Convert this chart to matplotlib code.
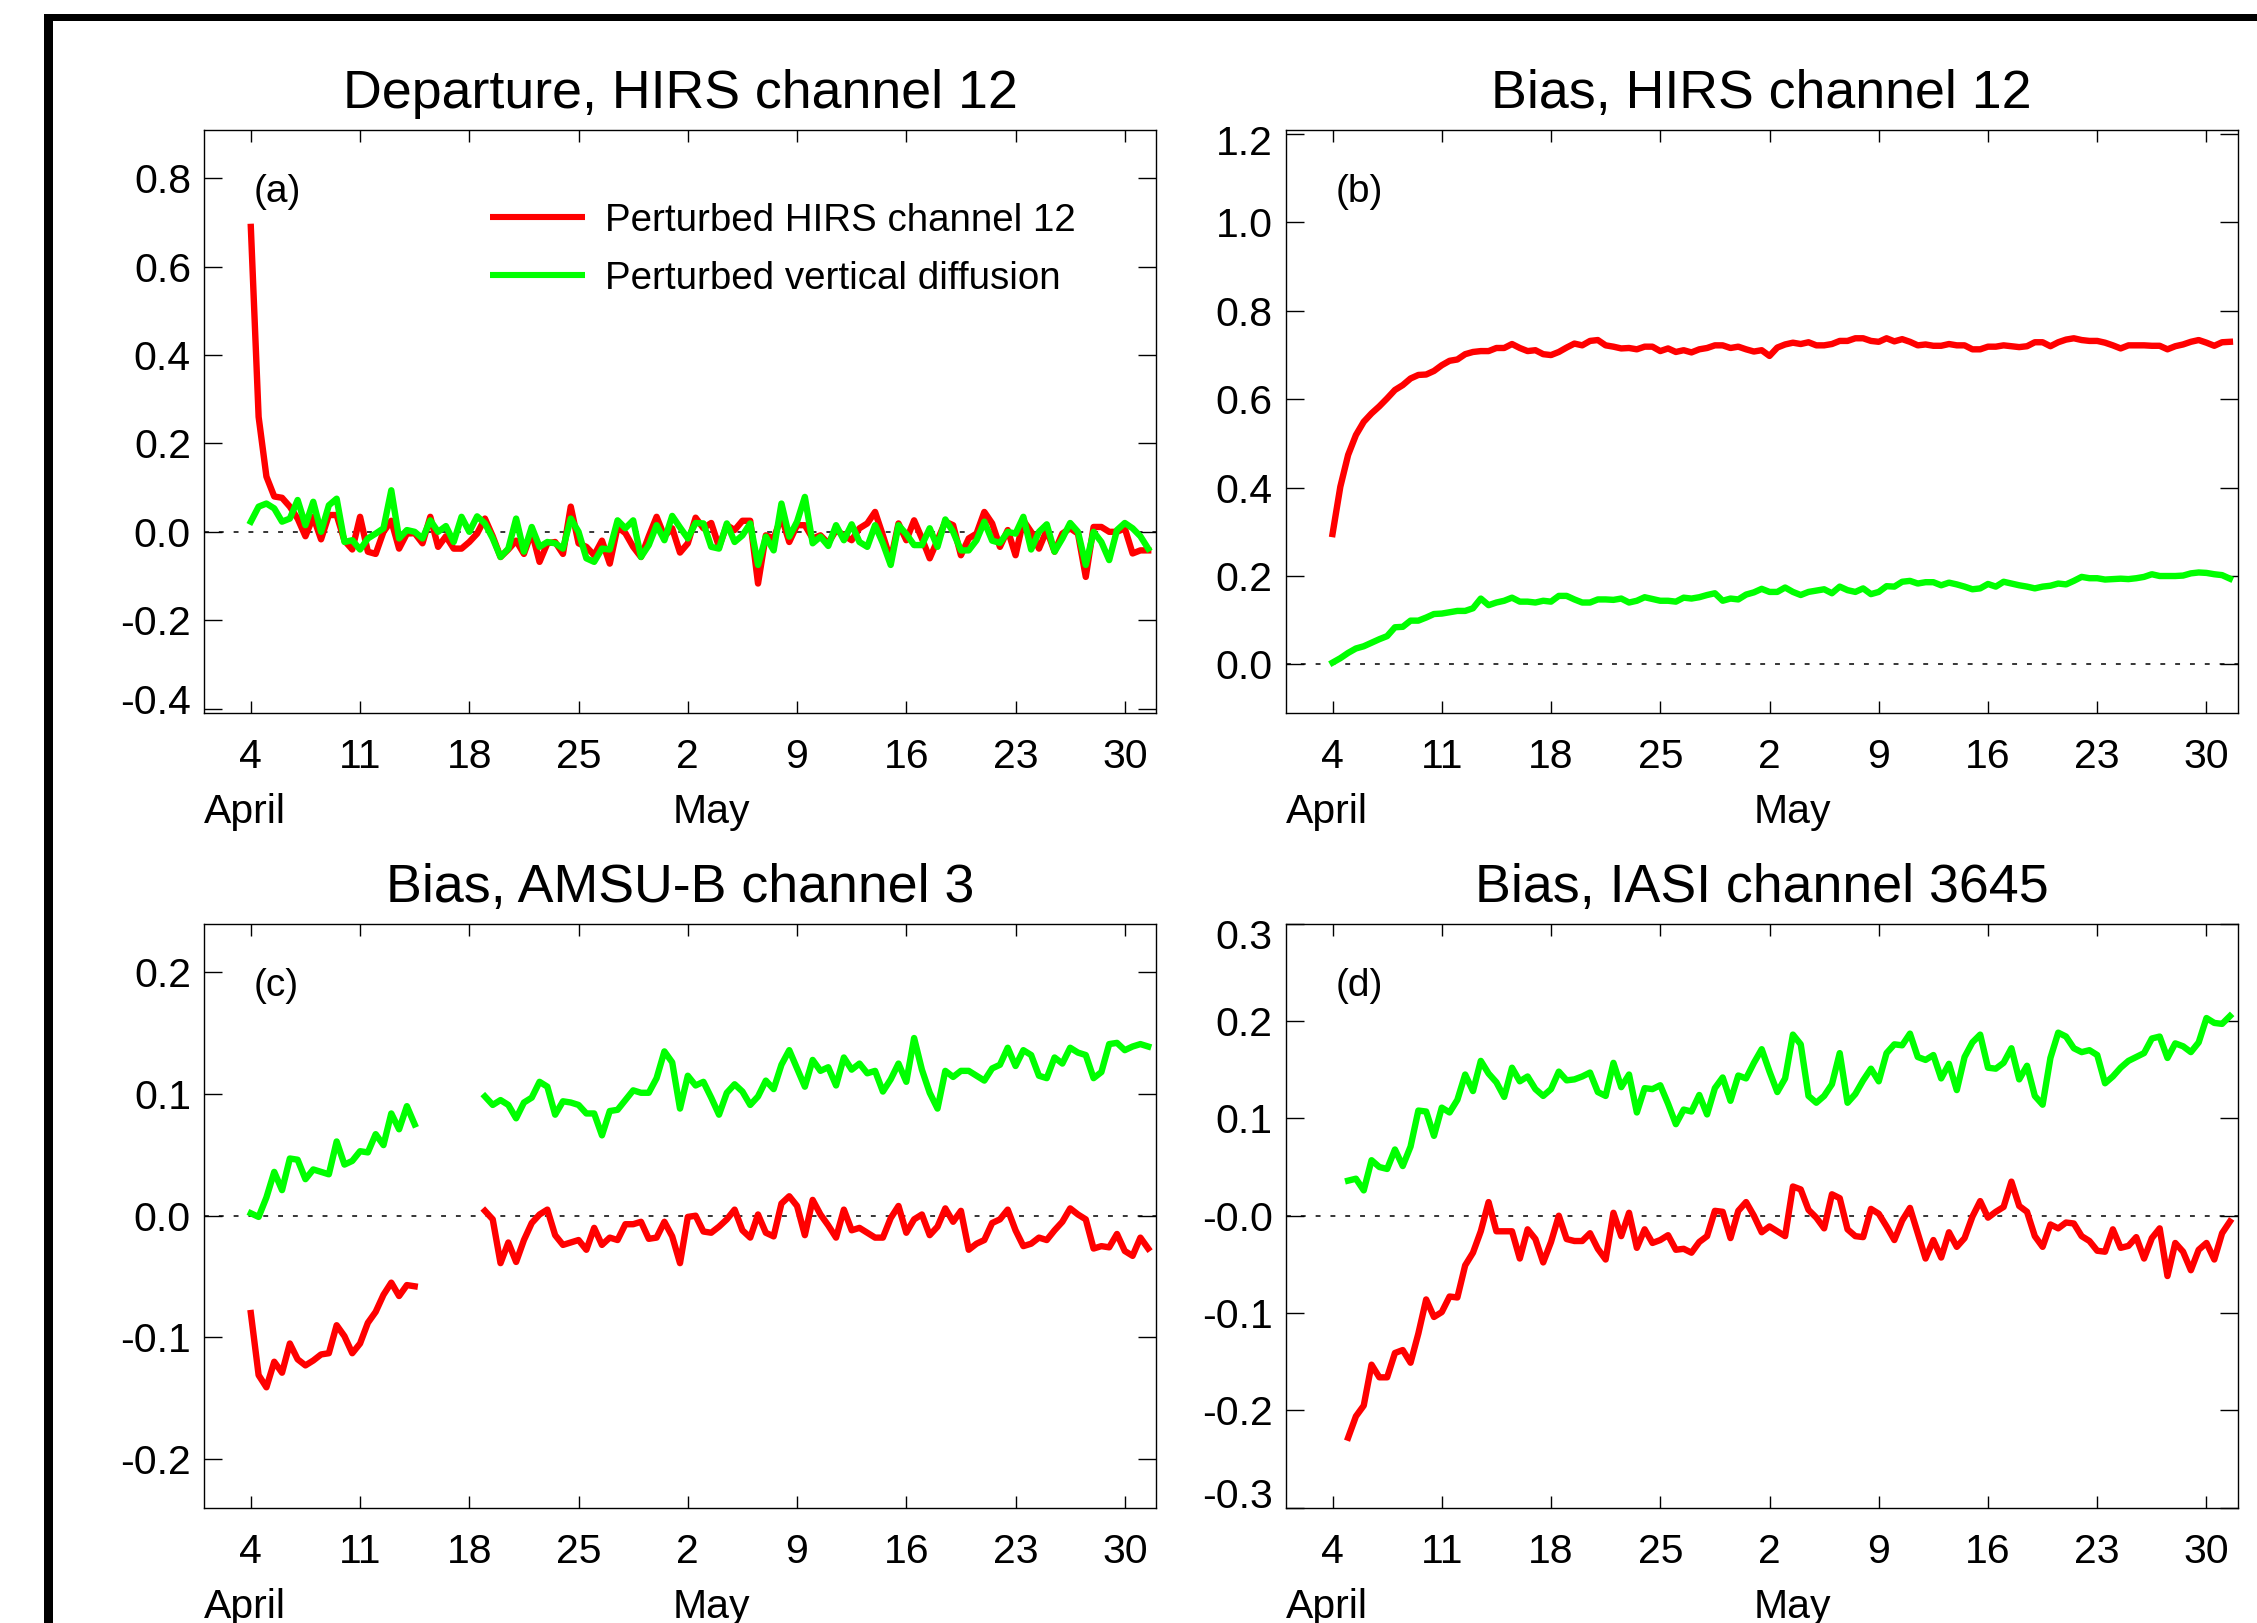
import numpy as np
import matplotlib.pyplot as plt
import matplotlib.transforms as mtransforms
from matplotlib.patches import Rectangle

plt.rcParams["font.family"] = ["Liberation Sans", "DejaVu Sans"]
plt.rcParams["axes.unicode_minus"] = False

nan = np.nan

# 12-hourly analyses from 4 April 00 UTC to 31 May 12 UTC, in days after 1 April
n_times = 116
days = 3.0 + 0.5 * np.arange(n_times)

x_range = (0, 61)
tick_days = [3, 10, 17, 24, 31, 38, 45, 52, 59]
tick_labels = ["4", "11", "18", "25", "2", "9", "16", "23", "30"]
month_names = ["April", "May"]
month_start_days = [0, 30]

legend_labels = ["Perturbed HIRS channel 12", "Perturbed vertical diffusion"]
titles = ["Departure, HIRS channel 12", "Bias, HIRS channel 12",
          "Bias, AMSU-B channel 3", "Bias, IASI channel 3645"]
letters = ["(a)", "(b)", "(c)", "(d)"]

# (a) departure, HIRS channel 12
dep_red = [
    0.69, 0.26, 0.125, 0.08, 0.077, 0.057, 0.03, -0.01, 0.034, -0.017,
    0.038, 0.038, -0.02, -0.04, 0.034, -0.045, -0.05, 0.0, 0.025, -0.038,
    -0.004, -0.003, -0.026, 0.034, -0.034, -0.01, -0.038, -0.038, -0.023, -0.004,
    0.03, -0.01, -0.057, -0.04, -0.02, -0.05, 0.0, -0.068, -0.026, -0.023,
    -0.05, 0.057, -0.026, -0.034, -0.053, -0.02, -0.072, 0.011, -0.003, -0.034,
    -0.057, -0.01, 0.034, -0.01, 0.008, -0.047,
    -0.026, 0.032, 0.008, 0.02, -0.034, 0.015, 0.004, 0.025, 0.025, -0.117,
    -0.008, -0.015, 0.034, -0.023, 0.015, 0.015, -0.015, -0.008, -0.026, 0.004,
    -0.008, -0.019, 0.008, 0.019, 0.045, -0.008, -0.064, 0.019, -0.019, 0.026,
    -0.015, -0.06, -0.019, 0.023, 0.015, -0.053, -0.015, -0.004, 0.045, 0.019,
    -0.034, 0.004, -0.053, 0.026, 0.0, -0.038, 0.004, -0.045, -0.004, 0.008,
    -0.004, -0.102, 0.011, 0.011, 0.0, 0.0, 0.008, -0.049, -0.042, -0.042]
dep_green = [
    0.023, 0.057, 0.064, 0.053, 0.023, 0.03, 0.072, 0.015, 0.068, 0.0,
    0.06, 0.075, -0.023, -0.019, -0.04, -0.015, -0.004, 0.008, 0.094, -0.015,
    0.004, 0.0, -0.015, 0.026, 0.0, 0.013, -0.023, 0.034, 0.0, 0.035,
    0.019, -0.015, -0.057, -0.038, 0.03, -0.045, 0.011, -0.034, -0.023, -0.026,
    -0.038, 0.03, 0.0, -0.06, -0.068, -0.038, -0.04, 0.026, 0.008, 0.026,
    -0.057, -0.03, 0.015, -0.019, 0.036, 0.01,
    -0.015, 0.02, 0.019, -0.034, -0.038, 0.019, -0.023, -0.008, 0.019, -0.075,
    -0.011, -0.042, 0.064, -0.011, 0.023, 0.079, -0.026, -0.011, -0.032, 0.015,
    -0.019, 0.017, -0.023, -0.034, 0.015, -0.026, -0.075, 0.015, -0.005, -0.03,
    -0.03, 0.008, -0.034, 0.028, 0.0, -0.042, -0.042, -0.019, 0.023, -0.02,
    -0.025, 0.0, -0.004, 0.034, -0.04, 0.0, 0.017, -0.045, -0.015, 0.02,
    0.0, -0.075, 0.0, -0.023, -0.064, 0.004, 0.02, 0.008, -0.01, -0.038]

# (b) bias, HIRS channel 12
hirs_red = [
    0.295, 0.402, 0.474, 0.519, 0.549, 0.568, 0.584, 0.602, 0.621, 0.632,
    0.647, 0.655, 0.656, 0.664, 0.677, 0.687, 0.69, 0.702, 0.707, 0.709,
    0.709, 0.716, 0.716, 0.725, 0.716, 0.709, 0.711, 0.702, 0.7, 0.707,
    0.717, 0.726, 0.722, 0.732, 0.734, 0.722, 0.719, 0.715, 0.716, 0.713,
    0.719, 0.719, 0.709, 0.715, 0.707, 0.711, 0.706, 0.713, 0.716, 0.722,
    0.722, 0.716, 0.719, 0.713, 0.708, 0.711,
    0.698, 0.717, 0.724, 0.728, 0.725, 0.729, 0.722, 0.722, 0.725, 0.732,
    0.732, 0.738, 0.738, 0.732, 0.73, 0.738, 0.731, 0.736, 0.73, 0.722,
    0.724, 0.721, 0.721, 0.725, 0.722, 0.722, 0.713, 0.713, 0.719, 0.719,
    0.722, 0.72, 0.718, 0.72, 0.729, 0.729, 0.72, 0.729, 0.735, 0.738,
    0.734, 0.732, 0.732, 0.728, 0.722, 0.715, 0.722, 0.722, 0.722, 0.721,
    0.721, 0.713, 0.72, 0.724, 0.73, 0.734, 0.728, 0.721, 0.729, 0.73]
hirs_green = [
    0.004, 0.014, 0.026, 0.036, 0.041, 0.049, 0.057, 0.064, 0.084, 0.085,
    0.099, 0.099, 0.106, 0.114, 0.115, 0.118, 0.121, 0.121, 0.127, 0.149,
    0.134, 0.14, 0.144, 0.151, 0.142, 0.142, 0.14, 0.144, 0.142, 0.155,
    0.155, 0.147, 0.14, 0.14, 0.147, 0.147, 0.146, 0.149, 0.14, 0.144,
    0.152, 0.148, 0.144, 0.144, 0.142, 0.151, 0.149, 0.152, 0.157, 0.161,
    0.144, 0.149, 0.147, 0.158, 0.163, 0.171,
    0.164, 0.164, 0.174, 0.164, 0.157, 0.164, 0.167, 0.17, 0.161, 0.176,
    0.168, 0.164, 0.172, 0.159, 0.164, 0.177, 0.176, 0.187, 0.189, 0.183,
    0.186, 0.186, 0.179, 0.185, 0.181, 0.176, 0.17, 0.172, 0.182, 0.176,
    0.187, 0.183, 0.179, 0.176, 0.172, 0.176, 0.178, 0.183, 0.181, 0.189,
    0.198, 0.195, 0.195, 0.192, 0.193, 0.194, 0.193, 0.195, 0.198, 0.204,
    0.2, 0.2, 0.2, 0.201, 0.206, 0.208, 0.207, 0.204, 0.202, 0.194]

# (c) bias, AMSU-B channel 3 (no data 15-18 April)
amsub_red = [
    -0.08, -0.131, -0.141, -0.12, -0.129, -0.105, -0.118, -0.123, -0.119, -0.114,
    -0.113, -0.09, -0.099, -0.113, -0.105, -0.088, -0.079, -0.065, -0.055, -0.066,
    -0.057, -0.058, nan, nan, nan, nan, nan, nan, nan, nan,
    0.004, -0.003, -0.039, -0.022, -0.038, -0.02, -0.006, 0.001, 0.005, -0.016,
    -0.024, -0.022, -0.02, -0.028, -0.01, -0.024, -0.018, -0.02, -0.007, -0.007,
    -0.005, -0.019, -0.018, -0.005, -0.017, -0.039,
    -0.001, 0.0, -0.013, -0.014, -0.009, -0.003, 0.005, -0.012, -0.018, 0.001,
    -0.014, -0.017, 0.01, 0.016, 0.008, -0.016, 0.013, 0.001, -0.008, -0.018,
    0.005, -0.012, -0.01, -0.014, -0.018, -0.018, -0.002, 0.008, -0.014, -0.003,
    0.001, -0.016, -0.009, 0.006, -0.005, 0.004, -0.028, -0.023, -0.02, -0.006,
    -0.003, 0.005, -0.012, -0.025, -0.023, -0.018, -0.02, -0.012, -0.005, 0.006,
    0.001, -0.003, -0.027, -0.025, -0.026, -0.015, -0.029, -0.033, -0.018, -0.027]
amsub_green = [
    0.002, -0.001, 0.015, 0.036, 0.021, 0.047, 0.046, 0.03, 0.038, 0.036,
    0.034, 0.061, 0.042, 0.045, 0.053, 0.052, 0.067, 0.058, 0.084, 0.071,
    0.09, 0.075, nan, nan, nan, nan, nan, nan, nan, nan,
    0.098, 0.091, 0.095, 0.091, 0.08, 0.093, 0.097, 0.11, 0.106, 0.083,
    0.094, 0.093, 0.091, 0.084, 0.084, 0.066, 0.086, 0.087, 0.095, 0.103,
    0.101, 0.101, 0.113, 0.135, 0.126, 0.088,
    0.115, 0.107, 0.11, 0.097, 0.083, 0.101, 0.108, 0.102, 0.091, 0.098,
    0.111, 0.104, 0.124, 0.136, 0.121, 0.106, 0.128, 0.119, 0.122, 0.107,
    0.13, 0.12, 0.125, 0.117, 0.119, 0.102, 0.112, 0.125, 0.11, 0.146,
    0.12, 0.101, 0.088, 0.119, 0.114, 0.119, 0.119, 0.115, 0.111, 0.121,
    0.124, 0.138, 0.123, 0.136, 0.132, 0.115, 0.113, 0.13, 0.125, 0.138,
    0.134, 0.132, 0.113, 0.118, 0.141, 0.142, 0.136, 0.139, 0.141, 0.139]

# (d) bias, IASI channel 3645 (starts 5 April)
iasi_red = [
    nan, nan, -0.228, -0.206, -0.195, -0.153, -0.166, -0.166, -0.141, -0.138,
    -0.151, -0.121, -0.086, -0.104, -0.099, -0.083, -0.084, -0.051, -0.038, -0.016,
    0.014, -0.016, -0.016, -0.016, -0.044, -0.014, -0.024, -0.048, -0.027, 0.0,
    -0.024, -0.026, -0.026, -0.018, -0.034, -0.045, 0.003, -0.021, 0.003, -0.033,
    -0.014, -0.028, -0.025, -0.02, -0.035, -0.034, -0.038, -0.027, -0.021, 0.005,
    0.004, -0.023, 0.005, 0.014, 0.0, -0.017,
    -0.011, -0.016, -0.021, 0.03, 0.027, 0.006, -0.002, -0.013, 0.022, 0.018,
    -0.014, -0.021, -0.022, 0.007, 0.002, -0.011, -0.025, -0.005, 0.008, -0.018,
    -0.044, -0.025, -0.043, -0.017, -0.032, -0.023, -0.001, 0.015, -0.002, 0.004,
    0.009, 0.035, 0.01, 0.004, -0.021, -0.032, -0.009, -0.013, -0.007, -0.008,
    -0.021, -0.026, -0.036, -0.037, -0.014, -0.033, -0.031, -0.022, -0.044, -0.023,
    -0.013, -0.062, -0.028, -0.037, -0.056, -0.035, -0.028, -0.045, -0.018, -0.006]
iasi_green = [
    nan, nan, 0.036, 0.038, 0.026, 0.057, 0.05, 0.048, 0.068, 0.051,
    0.071, 0.108, 0.107, 0.082, 0.111, 0.106, 0.119, 0.145, 0.128, 0.159,
    0.146, 0.137, 0.122, 0.152, 0.138, 0.143, 0.13, 0.123, 0.13, 0.148,
    0.139, 0.14, 0.143, 0.147, 0.127, 0.123, 0.157, 0.132, 0.145, 0.106,
    0.131, 0.13, 0.134, 0.115, 0.094, 0.109, 0.107, 0.124, 0.104, 0.131,
    0.142, 0.118, 0.144, 0.141, 0.157, 0.171,
    0.148, 0.127, 0.141, 0.186, 0.176, 0.123, 0.116, 0.123, 0.135, 0.167,
    0.116, 0.125, 0.139, 0.151, 0.138, 0.167, 0.176, 0.175, 0.187, 0.163,
    0.16, 0.165, 0.141, 0.156, 0.129, 0.163, 0.178, 0.186, 0.152, 0.151,
    0.157, 0.172, 0.14, 0.154, 0.123, 0.114, 0.162, 0.188, 0.184, 0.172,
    0.168, 0.17, 0.165, 0.136, 0.143, 0.152, 0.159, 0.163, 0.167, 0.182,
    0.184, 0.162, 0.177, 0.174, 0.168, 0.178, 0.203, 0.198, 0.197, 0.205]

y_ranges = [(-0.41, 0.91), (-0.11, 1.21), (-0.24, 0.24), (-0.3, 0.3)]
y_ticks = [[-0.4, -0.2, 0.0, 0.2, 0.4, 0.6, 0.8],
           [0.0, 0.2, 0.4, 0.6, 0.8, 1.0, 1.2],
           [-0.2, -0.1, 0.0, 0.1, 0.2],
           [-0.3, -0.2, -0.1, 0.0, 0.1, 0.2, 0.3]]
y_tick_labels = [["-0.4", "-0.2", "0.0", "0.2", "0.4", "0.6", "0.8"],
                 ["0.0", "0.2", "0.4", "0.6", "0.8", "1.0", "1.2"],
                 ["-0.2", "-0.1", "0.0", "0.1", "0.2"],
                 ["-0.3", "-0.2", "-0.1", "-0.0", "0.1", "0.2", "0.3"]]
red_series = [dep_red, hirs_red, amsub_red, iasi_red]
green_series = [dep_green, hirs_green, amsub_green, iasi_green]

RED = "#ff0000"
GREEN = "#00ff00"
W, H = 2257, 1623
TICK_FS = 29.5
TITLE_FS = 38.7

fig = plt.figure(figsize=(W / 100, H / 100), dpi=100)

# axes boxes in pixels: left, top, right, bottom
boxes = [(204, 129.7, 1156, 713), (1285.7, 129.7, 2237.7, 713),
         (204, 923.6, 1156, 1507.8), (1285.7, 923.6, 2237.7, 1507.8)]


def draw_panel(ax, box, red, green, ylim, yticks, ylabels, title, letter):
    h_px = box[3] - box[1]
    ax.plot(days, red, color=RED, lw=4.6)
    ax.plot(days, green, color=GREEN, lw=4.6)
    ax.axhline(0, color="black", lw=1.1, linestyle=(0, (3.2, 6.5)), zorder=1)
    ax.set_xlim(*x_range)
    ax.set_ylim(*ylim)

    ax.set_xticks(tick_days, tick_labels, fontsize=TICK_FS)
    ax.set_yticks(yticks, [""] * len(yticks))
    ax.tick_params(direction="in", top=True, right=True, width=1.0, color="black")
    ax.tick_params(axis="x", length=8.3, pad=18.0)
    ax.tick_params(axis="y", length=13.3)
    for sp in ax.spines.values():
        sp.set_linewidth(1.0)

    # y labels, kept inside the axis height like the original
    shift = mtransforms.ScaledTranslation(-9.4 / 72, 0, fig.dpi_scale_trans)
    for v, s in zip(yticks, ylabels):
        px = (v - ylim[0]) / (ylim[1] - ylim[0]) * h_px
        px = min(max(px, 14.5), h_px - 10.2)
        ax.text(0, px / h_px, s, transform=ax.transAxes + shift, ha="right",
                va="center_baseline", fontsize=TICK_FS)

    month_tr = mtransforms.blended_transform_factory(ax.transData, ax.transAxes)
    for name, d in zip(month_names, month_start_days):
        ax.text(d, -0.1886, name, transform=month_tr, ha="left", va="baseline",
                fontsize=TICK_FS)

    ax.set_title(title, fontsize=TITLE_FS, pad=15.3)
    ax.text(0.0525, 0.90, letter, transform=ax.transAxes, ha="left",
            va="center_baseline", fontsize=28)


for k in range(4):
    l, t, r, b = boxes[k]
    ax = fig.add_axes([l / W, 1 - b / H, (r - l) / W, (b - t) / H])
    draw_panel(ax, boxes[k], red_series[k], green_series[k], y_ranges[k],
               y_ticks[k], y_tick_labels[k], titles[k], letters[k])
    if k == 0:
        for y, c, lab in zip([0.8509, 0.7509], [RED, GREEN], legend_labels):
            ax.plot([0.3004, 0.4002], [y, y], transform=ax.transAxes, color=c,
                    lw=4.4, solid_capstyle="butt")
            ax.text(0.4212, y, lab, transform=ax.transAxes, ha="left",
                    va="center_baseline", fontsize=27.7)

# thick frame left over from the original page, top and left edges
fig.add_artist(Rectangle((44.4 / W, 1 - 21.2 / H), 1 - 44.4 / W, 6.9 / H,
                         transform=fig.transFigure, color="black", lw=0))
fig.add_artist(Rectangle((44.4 / W, 0), 8.9 / W, 1 - 14.3 / H,
                         transform=fig.transFigure, color="black", lw=0))

fig.savefig("out.png", dpi=100)
plt.close(fig)
